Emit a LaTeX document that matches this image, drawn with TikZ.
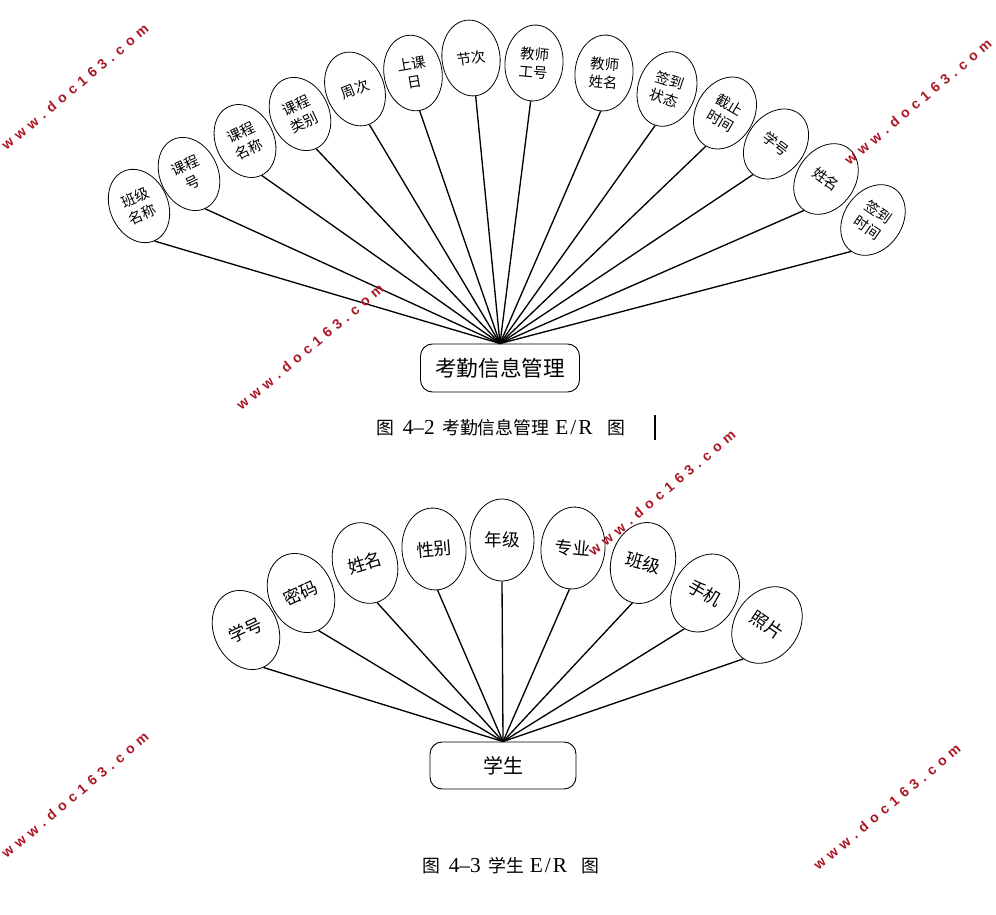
\documentclass[tikz,border=0pt]{standalone}
\usepackage{fontspec}
\setmainfont{Liberation Serif}
\newfontfamily\cjk{Noto Sans CJK SC}
\newfontfamily\wmfont{Liberation Sans}
\usetikzlibrary{shapes.geometric}
\definecolor{wmred}{RGB}{172,22,36}
\newcommand{\ks}{\hspace{4pt}}
\newcommand{\wmtext}{w\ks w\ks w\ks .\ks d\ks o\ks c\ks 1\ks 6\ks 3\ks .\ks c\ks o\ks m}
\newcommand{\lat}[1]{{\fontsize{16}{18}\selectfont #1}}
\tikzset{
  attrtop/.style={ellipse, draw, line width=0.6pt, inner sep=0pt,
    minimum width=43.5pt, minimum height=57pt, align=center,
    font=\cjk\fontsize{10.8}{13.8}\selectfont},
  attrbot/.style={ellipse, draw, line width=0.6pt, inner sep=0pt,
    minimum width=48pt, minimum height=61.5pt, align=center,
    font=\cjk\fontsize{13.2}{15}\selectfont},
  entbox/.style={draw, line width=0.7pt, rounded corners=9pt, inner sep=0pt},
  conn/.style={line width=1pt},
  caption/.style={inner sep=0pt, anchor=west, font=\fontsize{13.4}{15}\selectfont},
  wmark/.style={inner sep=0pt, text=wmred, rotate=40,
    font=\wmfont\bfseries\fontsize{10.5}{12}\selectfont}
}
\begin{document}
\begin{tikzpicture}[x=0.75pt,y=-0.75pt]
\path[fill=white] (0,0) rectangle (996,914);
\useasboundingbox (0,0) rectangle (996,914);

% ---------- Figure 4-2 ----------
\node[entbox, minimum width=119.25pt, minimum height=36pt,
  font=\cjk\fontsize{16.2}{18}\selectfont] (kq) at (500,368) {考勤信息管理};

\foreach \n/\x/\y/\r/\t in {
  t1/139/206/24/{班级\\名称},
  t2/189/174/25/{课程\\号},
  t3/245/141/26/{课程\\名称},
  t4/300/114/25/{课程\\类别},
  t5/355/89/22/{周次},
  t6/413/73/10/{上课\\日},
  t7/471/58/7/{节次},
  t8/534/63/-5/{教师\\工号},
  t9/604/73/-5/{教师\\姓名},
  t10/667/89/-18/{签到\\状态},
  t11/725/113/-30/{截止\\时间},
  t12/776/144/-37/{学号},
  t13/826/179/-35/{姓名},
  t14/873/220/-35/{签到\\时间}}
{
  \node[attrtop, rotate=\r] (\n) at (\x,\y) {\t};
  \draw[conn] (kq.north) -- (\n.south);
}

\node[caption] (cap1) at (376,428)
  {{\cjk 图}\hspace{6.5pt}\lat{4–2}\hspace{5.5pt}{\cjk 考勤信息管理}\hspace{4.5pt}\lat{E\hspace{1.5pt}/\hspace{1.5pt}R}\hspace{11pt}{\cjk 图}};
\coordinate (bar1) at (655,415);
\coordinate (bar2) at (655,440);
\draw[line width=1.4pt] (bar1) -- (bar2);

% ---------- Figure 4-3 ----------
\node[entbox, minimum width=109.5pt, minimum height=35.25pt,
  font=\cjk\fontsize{15}{17}\selectfont] (xs) at (503,765.5) {学生};

\foreach \n/\x/\y/\r/\t in {
  b1/246/630/25/{学号},
  b2/301/593/25/{密码},
  b3/365/563/17/{姓名},
  b4/434/549/5/{性别},
  b5/502/540/0/{年级},
  b6/573/548/-5/{专业},
  b7/643/563/-15/{班级},
  b8/705/593/-30/{手机},
  b9/767/625/-35/{照片}}
{
  \node[attrbot, rotate=\r] (\n) at (\x,\y) {\t};
  \draw[conn] (xs.north) -- (\n.south);
}

\node[caption] (cap2) at (422,866)
  {{\cjk 图}\hspace{6.5pt}\lat{4–3}\hspace{5.5pt}{\cjk 学生}\hspace{4.5pt}\lat{E\hspace{1.5pt}/\hspace{1.5pt}R}\hspace{11pt}{\cjk 图}};

% ---------- watermarks ----------
\node[wmark] (w1) at (75,87) {\wmtext};
\node[wmark] (w2) at (918,102) {\wmtext};
\node[wmark] (w3) at (310,347) {\wmtext};
\node[wmark] (w4) at (662,493) {\wmtext};
\node[wmark] (w5) at (75,795) {\wmtext};
\node[wmark] (w6) at (887,807) {\wmtext};
\end{tikzpicture}
\end{document}
